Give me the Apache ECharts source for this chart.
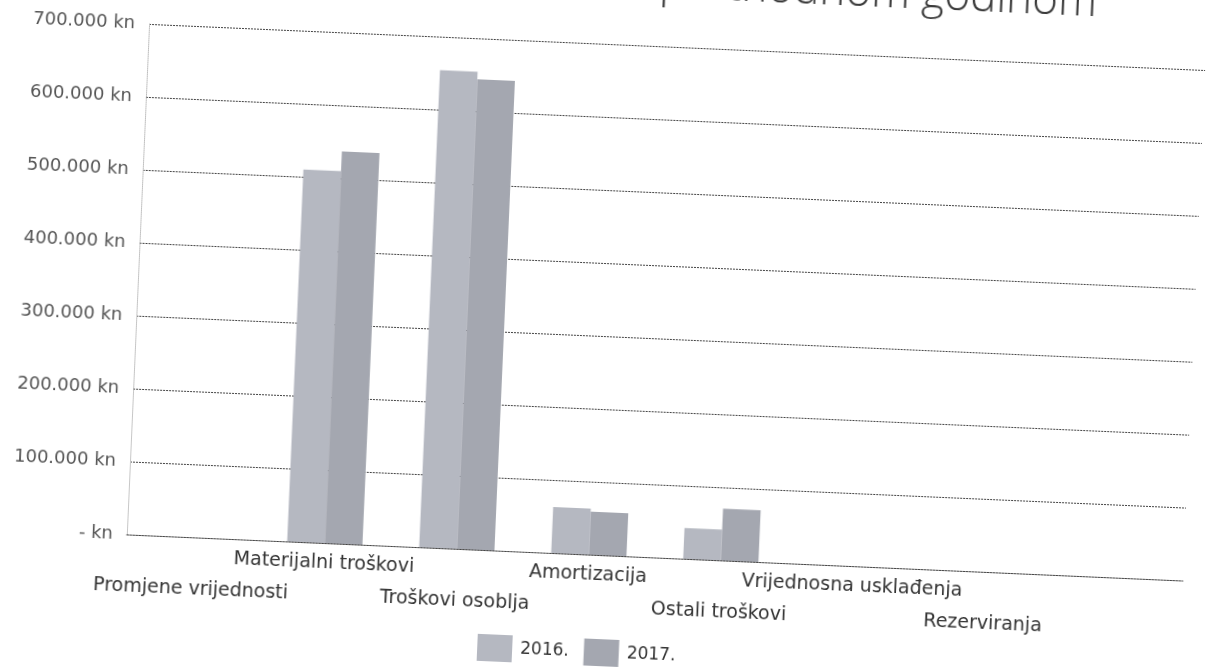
<!DOCTYPE html>
<html>
<head>
<meta charset="utf-8">
<title>Troškovi</title>
<script src="https://cdn.jsdelivr.net/npm/echarts@6/dist/echarts.min.js"></script>
<style>
  html, body { margin: 0; padding: 0; background: #fff; overflow: hidden; }
  /* the scanned page is slightly tilted; the box reaches 40px above the page so the cut title still shows */
  #chart { position: absolute; left: 0; top: -40px; width: 1206px; height: 709px;
    transform: rotate(2.5deg); transform-origin: 603px 374px; }
</style>
</head>
<body>
<div id="chart"></div>
<script>
// kategorije troškova (zadnja je prazna, kao na izvorniku)
var categories = ['Promjene vrijednosti', 'Materijalni troškovi', 'Troškovi osoblja', 'Amortizacija',
  'Ostali troškovi', 'Vrijednosna usklađenja', 'Rezerviranja', ''];
var values2016 = [0, 510000, 654000, 63000, 42000, 0, 0, null];
var values2017 = [0, 537000, 644000, 59000, 71000, 0, 0, null];
var yTicks = [0, 100000, 200000, 300000, 400000, 500000, 600000, 700000];

function knLabel(v) {
  if (v === 0) return '- kn';
  return (v / 1000) + '.000 kn';
}

var chart = echarts.init(document.getElementById('chart'));
chart.setOption({
  animation: false,
  title: {
    text: 'Usporedba troškova s prethodnom godinom',
    right: 124,
    top: 0,
    padding: 0,
    textStyle: { fontFamily: 'Open Sans', fontSize: 44, fontWeight: 'lighter', color: '#3a3a3a' }
  },
  legend: {
    data: ['2016.', '2017.'],
    left: 486,
    top: 674,
    itemWidth: 35,
    itemHeight: 27,
    itemGap: 15,
    icon: 'rect',
    textStyle: { fontFamily: 'DejaVu Sans', fontSize: 17, color: '#333', padding: [0, 0, 0, 3] }
  },
  grid: { left: 136, right: 13, top: 84, bottom: 114 },
  xAxis: {
    type: 'category',
    data: categories,
    axisTick: { show: false },
    axisLine: { lineStyle: { color: '#444', type: [2, 1] } },
    axisLabel: {
      interval: 0,
      margin: 4,
      lineHeight: 32,
      fontFamily: 'DejaVu Sans',
      fontSize: 19,
      color: '#333',
      // oznake su u dva reda (naizmjence)
      formatter: function (v, i) { return i % 2 === 0 ? '\n' + v : v; }
    }
  },
  yAxis: {
    type: 'value',
    min: yTicks[0],
    max: yTicks[yTicks.length - 1],
    interval: yTicks[1] - yTicks[0],
    axisLine: { show: true, lineStyle: { color: '#bbb', type: 'dotted' } },
    axisTick: { show: false },
    splitLine: { lineStyle: { color: '#444', type: [2, 1] } },
    axisLabel: {
      margin: 14,
      fontFamily: 'DejaVu Sans',
      fontSize: 18,
      color: '#555',
      formatter: knLabel
    }
  },
  series: [
    {
      name: '2016.',
      type: 'bar',
      data: values2016,
      barGap: 0,
      barCategoryGap: '43%',
      itemStyle: { color: '#b5b8c1' }
    },
    {
      name: '2017.',
      type: 'bar',
      data: values2017,
      itemStyle: { color: '#a4a7b0' }
    }
  ]
});
</script>
</body>
</html>
